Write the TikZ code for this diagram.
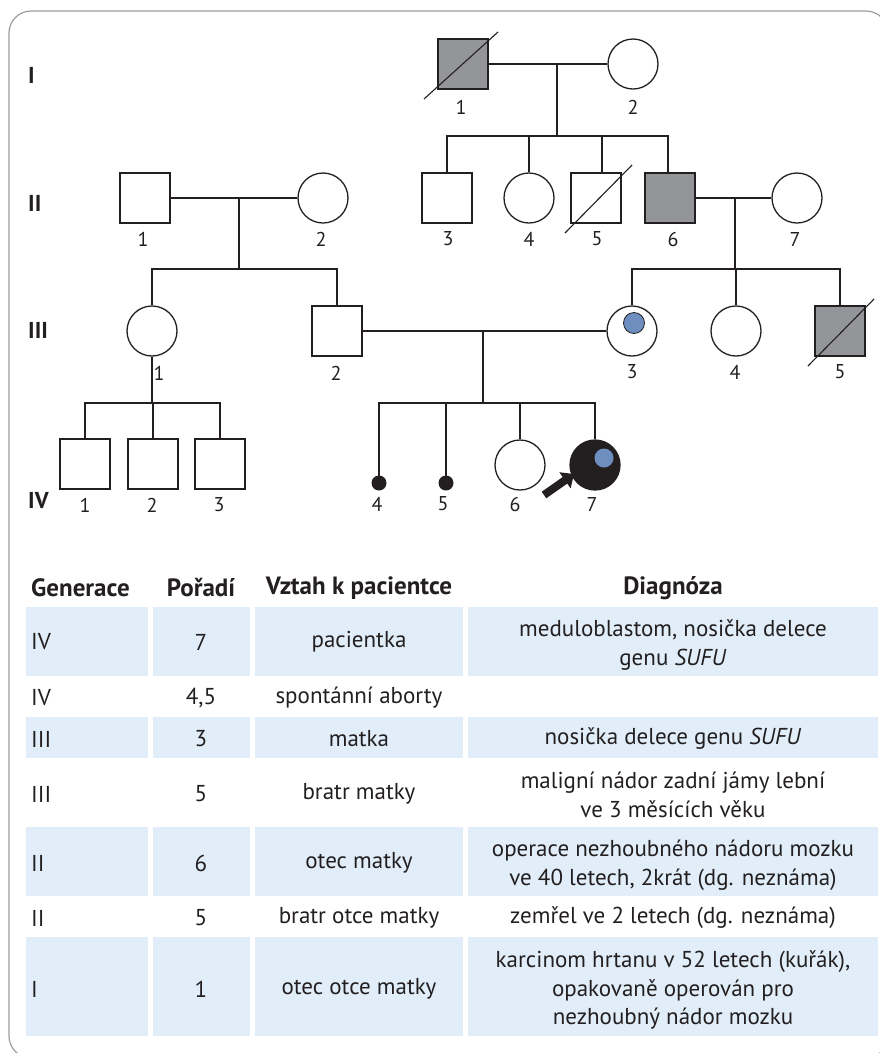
\documentclass[tikz,border=0pt]{standalone}
\usepackage{fontspec}
\setmainfont{PT Sans}
\usetikzlibrary{arrows.meta}
\definecolor{ink}{HTML}{231F20}
\definecolor{affgray}{HTML}{939598}
\definecolor{carrier}{HTML}{6D8EBF}
\definecolor{cellblue}{HTML}{E1EEF9}
\definecolor{framegray}{HTML}{9C9C9C}
\begin{document}
\begin{tikzpicture}[x=1pt,y=-1pt,
  male/.style={draw=ink, line width=1.3pt, rectangle, minimum size=50pt, inner sep=0pt},
  female/.style={draw=ink, line width=1.3pt, circle, minimum size=50pt, inner sep=0pt},
  aff/.style={fill=affgray},
  abort/.style={circle, fill=ink, minimum size=15pt, inner sep=0pt},
  cdot/.style={circle, fill=carrier, inner sep=0pt},
  lab/.style={font=\fontsize{20}{20}\selectfont, text=ink, inner sep=0pt},
  gen/.style={font=\fontsize{23}{23}\selectfont\bfseries, text=ink, inner sep=0pt, anchor=west},
  link/.style={draw=ink, line width=1.1pt},
  dead/.style={draw=ink, line width=1.1pt},
  cell/.style={fill=cellblue},
  tt/.style={font=\fontsize{23}{28.5}\selectfont, text=ink, inner sep=0pt, align=center},
  tl/.style={tt, anchor=west},
  th/.style={font=\fontsize{25}{25}\selectfont\bfseries, text=ink, inner sep=0pt},
]
\useasboundingbox (0,0) rectangle (880,1053);
\draw[framegray, line width=1.2pt, rounded corners=22pt] (9,11) rectangle (888,1058);

% generation labels
\node[gen] (gI) at (28,75) {I};
\node[gen] (gII) at (28,203) {II};
\node[gen] (gIII) at (28,330) {III};
\node[gen] (gIV) at (28,500) {IV};

% generation I
\node[male,aff] (i1) at (463,64) {};
\node[female] (i2) at (633,64) {};
\draw[dead] ([shift={(-39,35)}]i1.center) -- ([shift={(35,-32)}]i1.center);
\draw[link] (i1.east) -- (i2.west);
\coordinate (m1) at (557,64);
\coordinate (s1) at (557,136);
\draw[link] (m1) -- (s1);
\node[lab] (li1) at (461,107) {1};
\node[lab] (li2) at (633,107) {2};

% generation II right
\node[male] (ii3) at (447,198) {};
\node[female] (ii4) at (529,198) {};
\node[male] (ii5) at (596,198) {};
\node[male,aff] (ii6) at (670,198) {};
\node[female] (ii7) at (797,198) {};
\draw[dead] ([shift={(-31,35)}]ii5.center) -- ([shift={(36,-33)}]ii5.center);
\draw[link] (ii3.north) -- (ii3.north |- s1) -- ([xshift=-2pt]ii6.north |- s1) -- ([xshift=-2pt]ii6.north);
\draw[link] (ii4.north) -- (ii4.north |- s1);
\draw[link] ([xshift=6pt]ii5.north) -- ([xshift=6pt]ii5.north |- s1);
\draw[link] (ii6.east) -- (ii7.west);
\coordinate (m2) at (735,198);
\coordinate (s3) at (735,269);
\draw[link] (m2) -- (s3);
\node[lab] (lii3) at (448,239) {3};
\node[lab] (lii4) at (529,239) {4};
\node[lab] (lii5) at (597,239) {5};
\node[lab] (lii6) at (673,239) {6};
\node[lab] (lii7) at (795,239) {7};

% generation II left
\node[male] (ii1) at (145,198) {};
\node[female] (ii2) at (323,198) {};
\draw[link] (ii1.east) -- (ii2.west);
\coordinate (m3) at (239,198);
\coordinate (s2) at (239,269);
\draw[link] (m3) -- (s2);
\node[lab] (lii1) at (143,239) {1};
\node[lab] (lii2) at (321,239) {2};

% generation III
\node[female] (iii1) at (152,331) {};
\node[male] (iii2) at (337,331) {};
\draw[link] (iii1.north) -- (iii1.north |- s2) -- (iii2.north |- s2) -- (iii2.north);
\node[female] (iii3) at (632,331) {};
\node[female] (iii4) at (736,331) {};
\node[male,aff] (iii5) at (840,331) {};
\draw[dead] ([shift={(-32,35)}]iii5.center) -- ([shift={(34,-32)}]iii5.center);
\draw[link] (iii3.north) -- (iii3.north |- s3) -- (iii5.north |- s3) -- (iii5.north);
\draw[link] (iii4.north) -- (iii4.north |- s3);
\node[cdot, draw=ink, line width=0.8pt, minimum size=21pt] (iii3c) at ([shift={(2,-8)}]iii3.center) {};
\draw[link] (iii2.east) -- (iii3.west);
\coordinate (m4) at (483,331);
\coordinate (s4) at (483,403);
\draw[link] (m4) -- (s4);
\node[lab] (liii1) at (159,373) {1};
\node[lab] (liii2) at (336,373) {2};
\node[lab] (liii3) at (632,372) {3};
\node[lab] (liii4) at (735,372) {4};
\node[lab] (liii5) at (840,372) {5};

% generation IV left
\coordinate (s5) at (152,403);
\draw[link] (iii1.south) -- (s5);
\node[male] (iv1) at (85,464) {};
\node[male] (iv2) at (153,464) {};
\node[male] (iv3) at (220,464) {};
\draw[link] (iv1.north) -- (iv1.north |- s5) -- (iv3.north |- s5) -- (iv3.north);
\draw[link] (iv2.north) -- (iv2.north |- s5);
\node[lab] (liv1) at (85,505) {1};
\node[lab] (liv2) at (152,505) {2};
\node[lab] (liv3) at (219,505) {3};

% generation IV right
\node[abort] (iv4) at (379,483) {};
\node[abort] (iv5) at (446,483) {};
\node[female] (iv6) at (520,465) {};
\node[female, fill=ink] (iv7) at (595,465) {};
\node[cdot, minimum size=19pt] (iv7c) at ([shift={(9,-7)}]iv7.center) {};
\draw[link] (iv4.center) -- (iv4.center |- s4) -- (iv7.north |- s4) -- (iv7.north);
\draw[link] (iv5.center) -- (iv5.center |- s4);
\draw[link] (iv6.north) -- (iv6.north |- s4);
\coordinate (arT) at (544,495);
\coordinate (arH) at (574,474);
\draw[ink, line width=8pt, -{Triangle[length=11pt,width=19pt]}] (arT) -- (arH);
\node[lab] (liv4) at (377,504) {4};
\node[lab] (liv5) at (443,504) {5};
\node[lab] (liv6) at (515,504) {6};
\node[lab] (liv7) at (592,504) {7};

% table backgrounds
\foreach \ya/\yb in {607/676, 717/758, 827/896, 937/1036}{
  \fill[cell] (26,\ya) rectangle (148,\yb);
  \fill[cell] (153,\ya) rectangle (250,\yb);
  \fill[cell] (255,\ya) rectangle (463,\yb);
  \fill[cell] (468,\ya) rectangle (878,\yb);
}

% header
\node[th, anchor=west] (h1) at (31,588) {Generace};
\node[th] (h2) at (201,588) {Pořadí};
\node[th] (h3) at (359,588) {Vztah k pacientce};
\node[th] (h4) at (673,588) {Diagnóza};

% rows
\node[tl] (r1a) at (31,642) {IV};
\node[tt] (r1b) at (201,642) {7};
\node[tt] (r1c) at (359,642) {pacientka};
\node[tt] (r1d) at (673,645) {meduloblastom, nosička delece\\genu \textit{SUFU}};

\node[tl] (r2a) at (31,698) {IV};
\node[tt] (r2b) at (201,698) {4,5};
\node[tt] (r2c) at (359,698) {spontánní aborty};

\node[tl] (r3a) at (31,739) {III};
\node[tt] (r3b) at (201,739) {3};
\node[tt] (r3c) at (359,739) {matka};
\node[tt] (r3d) at (673,739) {nosička delece genu \textit{SUFU}};

\node[tl] (r4a) at (31,794) {III};
\node[tt] (r4b) at (201,794) {5};
\node[tt] (r4c) at (359,794) {bratr matky};
\node[tt] (r4d) at (673,795) {maligní nádor zadní jámy lební\\ve 3 měsících věku};

\node[tl] (r5a) at (31,863) {II};
\node[tt] (r5b) at (201,863) {6};
\node[tt] (r5c) at (359,863) {otec matky};
\node[tt] (r5d) at (673,865) {operace nezhoubného nádoru mozku\\ve 40 letech, 2krát (dg. neznáma)};

\node[tl] (r6a) at (31,918) {II};
\node[tt] (r6b) at (201,918) {5};
\node[tt] (r6c) at (359,918) {bratr otce matky};
\node[tt] (r6d) at (673,918) {zemřel ve 2 letech (dg. neznáma)};

\node[tl] (r7a) at (31,989) {I};
\node[tt] (r7b) at (201,989) {1};
\node[tt] (r7c) at (359,989) {otec otce matky};
\node[tt] (r7d) at (673,990) {karcinom hrtanu v 52 letech (kuřák),\\opakovaně operován pro\\nezhoubný nádor mozku};
\end{tikzpicture}
\end{document}
